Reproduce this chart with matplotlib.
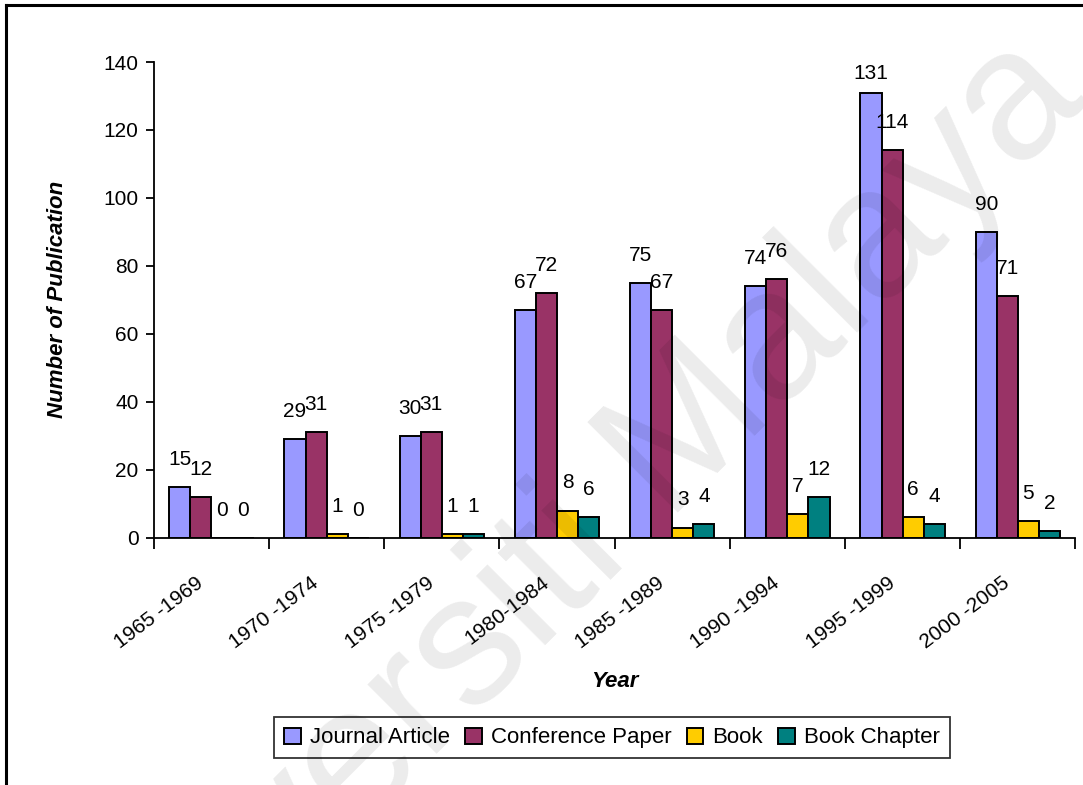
import numpy as np
import matplotlib.pyplot as plt
from matplotlib.lines import Line2D
from matplotlib.transforms import ScaledTranslation

plt.rcParams['font.family'] = ['Liberation Sans', 'DejaVu Sans']

# data
periods = ['1965 -1969', '1970 -1974', '1975 -1979', '1980-1984',
           '1985 -1989', '1990 -1994', '1995 -1999', '2000 -2005']
journal = [15, 29, 30, 67, 75, 74, 131, 90]
conference = [12, 31, 31, 72, 67, 76, 114, 71]
book = [0, 1, 1, 8, 3, 7, 6, 5]
chapter = [0, 0, 1, 6, 4, 12, 4, 2]

series = [('Journal Article', journal, '#9999FF'),
          ('Conference Paper', conference, '#993366'),
          ('Book', book, '#FFCC00'),
          ('Book Chapter', chapter, '#008080')]

fig = plt.figure(figsize=(10.83, 7.85), dpi=100)
ax = fig.add_axes([0.142, 0.315, 0.851, 0.606])

x = np.arange(len(periods))
w = 0.183
for i, (name, vals, col) in enumerate(series):
    pos = x + (i - 1.5) * w
    ax.bar(pos, vals, w, color=col, edgecolor='black', linewidth=1.4,
           label=name, zorder=2)
    for px, v in zip(pos, vals):
        off = 7 if v > 125 else 13
        ax.annotate(str(v), (px, v), xytext=(0, off), textcoords='offset points',
                    ha='center', va='bottom', fontsize=15)

ax.set_xlim(-0.5, len(periods) - 0.5)
ax.set_ylim(0, 140)
ax.set_yticks(range(0, 141, 20))
ax.tick_params(axis='y', labelsize=15, length=6, width=1.3, direction='out',
               pad=5)
ax.set_xticks(x)
ax.set_xticklabels(periods, rotation=37, ha='right', va='center',
                   rotation_mode='anchor', fontsize=15)
ax.tick_params(axis='x', length=0, pad=31)
shift = ScaledTranslation(-0.1, 0, fig.dpi_scale_trans)
for lab in ax.get_xticklabels():
    lab.set_transform(lab.get_transform() + shift)
# tick marks between the categories
ax.set_xticks(np.arange(-0.5, len(periods)), minor=True)
ax.tick_params(axis='x', which='minor', length=8, width=1.3, direction='out')

for s in ['top', 'right']:
    ax.spines[s].set_visible(False)
ax.spines['left'].set_linewidth(1.3)
ax.spines['bottom'].set_linewidth(1.3)

ax.set_ylabel('Number of Publication', fontsize=16, fontweight='bold',
              fontstyle='italic')
ax.yaxis.set_label_coords(-0.093, 0.5)
ax.set_xlabel('Year', fontsize=16, fontweight='bold', fontstyle='italic')
ax.xaxis.set_label_coords(0.5, -0.28)

leg = fig.legend(loc='center', bbox_to_anchor=(0.565, 0.06), ncol=4,
                 fontsize=16, frameon=True, fancybox=False, edgecolor='black',
                 handlelength=0.75, handleheight=0.75, handletextpad=0.4,
                 columnspacing=0.7, borderpad=0.45)
leg.get_frame().set_linewidth(1.3)

# frame around the picture (only left and top edges are visible)
fig.add_artist(Line2D([0.006, 0.006], [0, 0.993], color='black', lw=2.2))
fig.add_artist(Line2D([0.006, 1], [0.993, 0.993], color='black', lw=2.2))

# watermark
fig.text(0.515, 0.28, 'Universiti Malaya', fontsize=133, color='black',
         alpha=0.08, rotation=45, ha='center', va='center', zorder=10)

fig.savefig('out.png', dpi=100)
